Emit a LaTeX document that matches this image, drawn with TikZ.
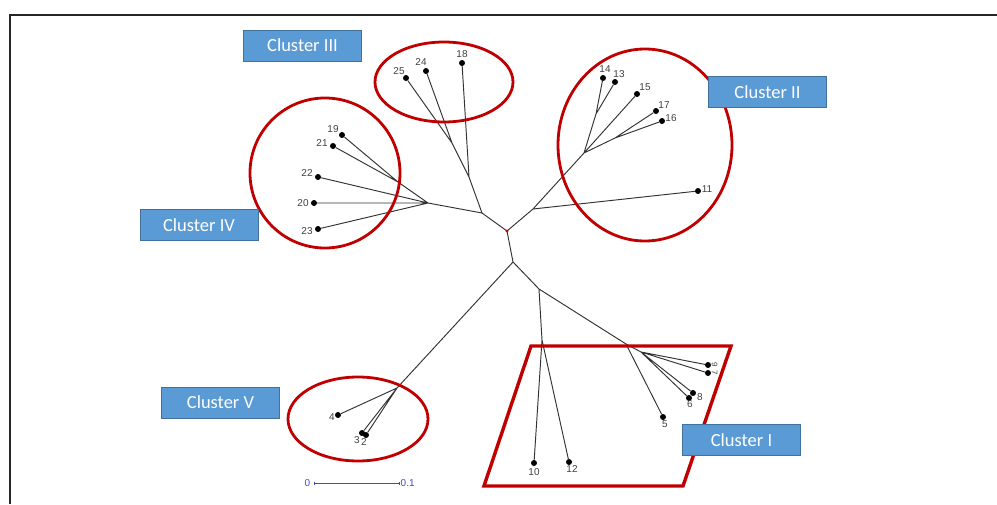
\documentclass[tikz,border=0pt]{standalone}
\usepackage{fontspec}
\setmainfont{Liberation Sans}
\newfontfamily\boxfont{Carlito}
\definecolor{ringred}{HTML}{C00000}
\definecolor{boxfill}{HTML}{5B9BD5}
\definecolor{boxline}{HTML}{41719C}
\definecolor{scaleblue}{RGB}{70,70,190}
\begin{document}
\begin{tikzpicture}[x=1pt,y=-1pt,
  branch/.style={draw=black!80,line width=0.95pt},
  leaf/.style={circle,fill=black,inner sep=0pt,minimum size=6pt},
  tag/.style={font=\fontsize{10}{10}\selectfont,text=black!75,inner sep=0.5pt},
  sidetag/.style={tag,font=\fontsize{8}{8}\selectfont,rotate=-90,inner sep=0pt},
  ring/.style={draw=ringred,line width=2.8pt},
  clusterbox/.style={draw=boxline,fill=boxfill,text=white,line width=0.8pt,
    font=\boxfont\fontsize{18.5}{18.5}\selectfont,minimum width=118pt,minimum height=31pt,inner sep=0pt}]
\useasboundingbox (0,0) rectangle (997,504);

% frame
\draw[black!85,line width=2pt] (10,504) -- (10,15) -- (997,15);

% internal junctions
\coordinate (R) at (507,231);
\coordinate (A) at (482,213);
\coordinate (jIII) at (469,177);
\coordinate (j2524) at (452,143);
\coordinate (jIV) at (428,203);
\coordinate (j1921) at (398,182);
\coordinate (B) at (533,209);
\coordinate (jII) at (584,153);
\coordinate (j1413) at (596,114);
\coordinate (j1716) at (615,138);
\coordinate (C) at (513,262);
\coordinate (E) at (397,388);
\coordinate (D) at (539,289);
\coordinate (F) at (542,340);
\coordinate (G) at (626,344);
\coordinate (H) at (641,352);

% leaves
\foreach \n/\p in {25/{406,78},24/{426,71},18/{462,63},
  19/{342,135},21/{333,146},22/{318,177},20/{314,203},23/{318,229},
  14/{603,78},13/{615,82},15/{637,94},17/{656,111},16/{662,121},11/{698,191},
  4/{338,415},3/{362,433},2/{366,435},
  10/{534,463},12/{569,462},5/{663,417},9/{708,365},7/{708,373},8/{693,393},6/{689,398}}
  \node[leaf] (l\n) at (\p) {};

% leaf labels
\foreach \n/\p in {25/{399,71},24/{421,62},18/{462,54},
  19/{333,129},21/{322,143},22/{307,173},20/{303,203},23/{307,231},
  14/{605,69},13/{619,74},15/{645,87},17/{664,105},16/{671,118},11/{707,189},
  4/{332,417},3/{357,440},2/{364,442},
  10/{534,472},12/{572,469},5/{665,424},8/{700,397},6/{690,404}}
  \node[tag] (t\n) at (\p) {\n};
\node[sidetag] (t9) at (714.5,364.5) {9};
\node[sidetag] (t7) at (714.5,372.5) {7};

% branches
\draw[branch] (R) -- (A) (A) -- (jIII) (jIII) -- (l18) (jIII) -- (j2524)
  (j2524) -- (l24) (j2524) -- (l25);
\draw[branch] (A) -- (jIV) (jIV) -- (j1921) (j1921) -- (l19) (j1921) -- (l21)
  (jIV) -- (l22) (jIV) -- (l20) (jIV) -- (l23);
\draw[branch] (R) -- (B) (B) -- (l11) (B) -- (jII) (jII) -- (j1413)
  (j1413) -- (l14) (j1413) -- (l13) (jII) -- (l15) (jII) -- (j1716)
  (j1716) -- (l17) (j1716) -- (l16);
\draw[branch] (R) -- (C) (C) -- (E) (E) -- (l4) (E) -- (l3) (E) -- (l2);
\draw[branch] (C) -- (D) (D) -- (F) (F) -- (l10) (F) -- (l12)
  (D) -- (G) (G) -- (l5) (G) -- (H) (H) -- (l9) (H) -- (l7) (H) -- (l8) (H) -- (l6);
\fill[red!80!black] (R) circle (1.6pt);

% cluster outlines
\draw[ring] (444,82) ellipse [x radius=69pt,y radius=40pt];
\draw[ring] (645,145) ellipse [x radius=87pt,y radius=96pt];
\draw[ring] (325,173) ellipse [x radius=75pt,y radius=75pt];
\draw[ring] (358,419) ellipse [x radius=70pt,y radius=42pt];
\draw[ring,line width=3.4pt,line join=miter] (531,346) -- (731,346) -- (683,486) -- (484,486) -- cycle;

% cluster labels
\node[clusterbox] (cIII) at (302.5,45.5) {Cluster III};
\node[clusterbox] (cII) at (767.5,92) {Cluster II};
\node[clusterbox] (cIV) at (199,225) {Cluster IV};
\node[clusterbox] (cV) at (220.5,402.5) {Cluster V};
\node[clusterbox] (cI) at (741.5,440) {Cluster I};

% scale bar
\coordinate (s0) at (314,483);
\coordinate (s1) at (399,483);
\draw[scaleblue,line width=0.9pt] (s0) -- (s1);
\draw[scaleblue,line width=0.9pt] ([yshift=-1.5pt]s0) -- ([yshift=1.5pt]s0)
  ([yshift=-1.5pt]s1) -- ([yshift=1.5pt]s1);
\node[tag,text=scaleblue,anchor=east] (z0) at ([xshift=-3pt]s0) {0};
\node[tag,text=scaleblue,anchor=west] (z1) at ([xshift=1pt]s1) {0.1};
\end{tikzpicture}
\end{document}
